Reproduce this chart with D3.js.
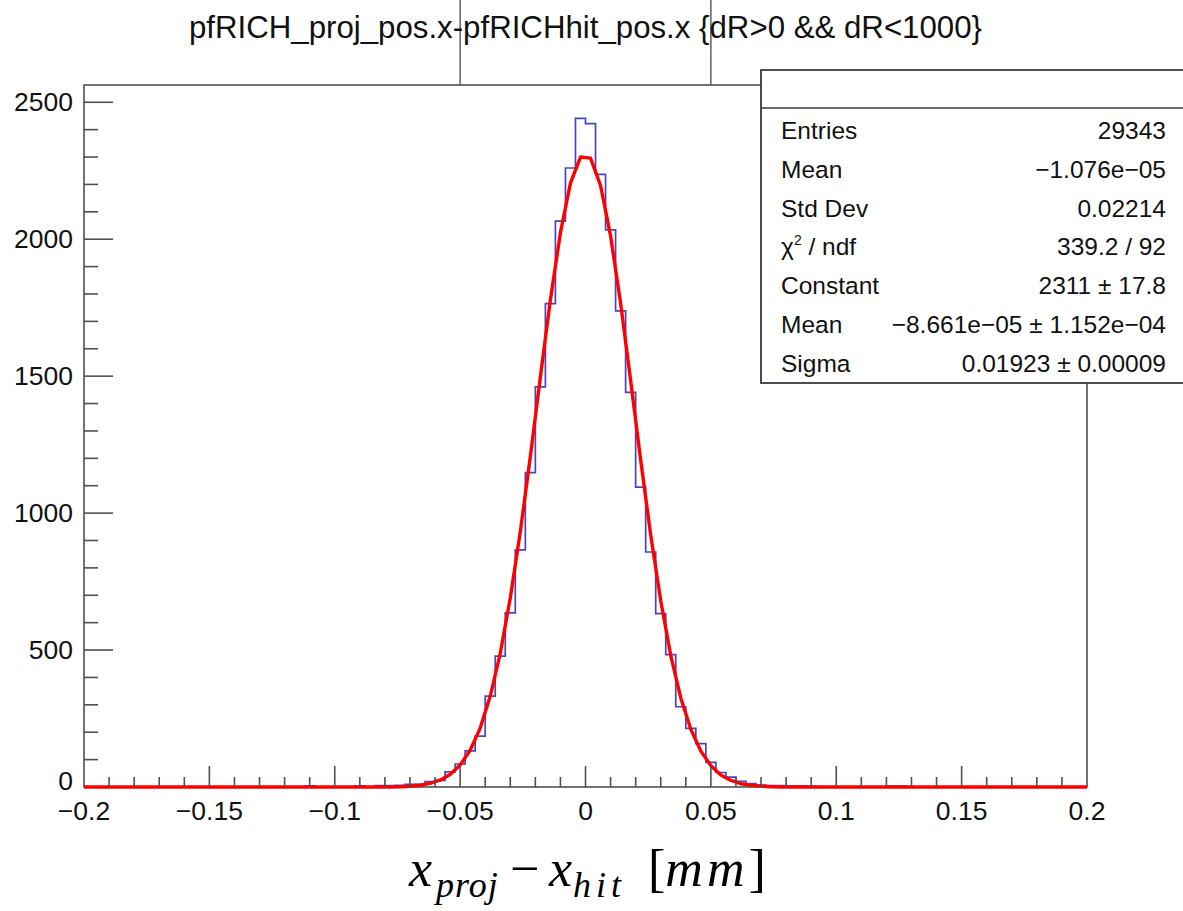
<!DOCTYPE html>
<html>
<head>
<meta charset="utf-8">
<script src="https://cdn.jsdelivr.net/npm/d3@7"></script>
<style>
  body { margin: 0; background: #fff; }
  svg { display: block; font-family: "Liberation Sans", Arial, sans-serif; }
</style>
</head>
<body>
<svg id="chart" width="1183" height="911"></svg>
<script>
const binLow = -0.2;
const binHigh = 0.2;
const binWidth = 0.004;

// counts per bin, 100 bins from -0.2 to 0.2
const counts = [
  0, 0, 0, 0, 0, 0, 0, 0, 0, 0,
  0, 0, 0, 0, 0, 0, 0, 1, 0, 0,
  0, 0, 4, 0, 0, 0, 1, 4, 1, 5,
  5, 6, 10, 11, 20, 24, 55, 84, 132, 186,
  332, 478, 636, 866, 1148, 1461, 1765, 2066, 2260, 2441,
  2422, 2237, 2034, 1738, 1441, 1095, 858, 633, 483, 293,
  214, 158, 90, 53, 36, 21, 12, 7, 5, 5,
  4, 4, 3, 1, 0, 1, 0, 0, 0, 1,
  3, 3, 0, 0, 0, 1, 0, 0, 0, 0,
  0, 0, 0, 1, 0, 0, 0, 0, 0, 0
];

// red fit curve read at the bin centres
const fitValues = [
  0, 0, 0, 0, 0, 0, 0, 0, 0, 0,
  0, 0, 0, 0, 0, 0, 0, 0, 0, 0,
  0, 0, 0, 0, 0, 0, 0, 0, 0, 0,
  0, 1, 3, 6, 13, 25, 46, 80, 134, 215,
  331, 488, 690, 932, 1207, 1497, 1779, 2024, 2205, 2300,
  2296, 2196, 2012, 1766, 1484, 1194, 920, 680, 480, 325,
  211, 131, 78, 44, 24, 12, 6, 3, 1, 0,
  0, 0, 0, 0, 0, 0, 0, 0, 0, 0,
  0, 0, 0, 0, 0, 0, 0, 0, 0, 0,
  0, 0, 0, 0, 0, 0, 0, 0, 0, 0
];

const xTicks = [-0.2, -0.15, -0.1, -0.05, 0, 0.05, 0.1, 0.15, 0.2];
const xTickLabels = ["\u22120.2", "\u22120.15", "\u22120.1", "\u22120.05", "0", "0.05", "0.1", "0.15", "0.2"];
const yTicks = [0, 500, 1000, 1500, 2000, 2500];
const yMax = 2563;

const title = "pfRICH_proj_pos.x-pfRICHhit_pos.x {dR>0 && dR<1000}";
const statLabels = ["Entries", "Mean", "Std Dev", "chi2", "Constant", "Mean", "Sigma"];
const statValues = ["29343", "\u22121.076e\u221205", "0.02214", "339.2 / 92", "2311 \u00b1 17.8",
  "\u22128.661e\u221205 \u00b1 1.152e\u221204", "0.01923 \u00b1 0.00009"];

const frame = { left: 84, right: 1087, top: 85, bottom: 787 };
const axisColor = "#505050";

const x = d3.scaleLinear().domain([binLow, binHigh]).range([frame.left, frame.right]);
const y = d3.scaleLinear().domain([0, yMax]).range([frame.bottom, frame.top]);

const svg = d3.select("#chart");

// frame box
svg.append("rect")
  .attr("x", frame.left).attr("y", frame.top)
  .attr("width", frame.right - frame.left).attr("height", frame.bottom - frame.top)
  .attr("fill", "none").attr("stroke", axisColor).attr("stroke-width", 1.6);

// histogram outline
const histPoints = [];
counts.forEach((c, i) => {
  const lo = binLow + i * binWidth;
  histPoints.push([lo, c], [lo + binWidth, c]);
});
const line = d3.line().x(d => x(d[0])).y(d => y(d[1]));

svg.append("path")
  .attr("d", line(histPoints))
  .attr("fill", "none")
  .attr("stroke", "#2626b8")
  .attr("stroke-opacity", 0.85)
  .attr("stroke-width", 1.7);

// fit curve
const fitPoints = [[binLow, fitValues[0]]]
  .concat(fitValues.map((v, i) => [binLow + (i + 0.5) * binWidth, v]))
  .concat([[binHigh, fitValues[fitValues.length - 1]]]);

svg.append("path")
  .attr("d", line(fitPoints))
  .attr("fill", "none")
  .attr("stroke", "#ff0000")
  .attr("stroke-width", 3.4)
  .attr("stroke-linejoin", "round");

// x axis ticks (inside, upward)
const xMinor = d3.range(-0.19, 0.2, 0.01).map(v => +v.toFixed(3));
svg.append("g").selectAll("line")
  .data(xMinor)
  .join("line")
  .attr("x1", d => x(d)).attr("x2", d => x(d))
  .attr("y1", frame.bottom)
  .attr("y2", d => frame.bottom - (Math.abs(Math.round(d * 100)) % 5 === 0 ? 21 : 10))
  .attr("stroke", axisColor).attr("stroke-width", 1.6);

svg.append("g").selectAll("text")
  .data(xTicks)
  .join("text")
  .attr("x", d => x(d))
  .attr("y", 820)
  .attr("text-anchor", "middle")
  .attr("font-size", 26.5)
  .attr("fill", "#111")
  .text((d, i) => xTickLabels[i]);

// y axis ticks (inside, rightward)
const yMinor = d3.range(100, yMax, 100);
svg.append("g").selectAll("line")
  .data(yMinor)
  .join("line")
  .attr("x1", frame.left)
  .attr("x2", d => frame.left + (d % 500 === 0 ? 29 : 14))
  .attr("y1", d => y(d)).attr("y2", d => y(d))
  .attr("stroke", axisColor).attr("stroke-width", 1.6);

svg.append("g").selectAll("text")
  .data(yTicks)
  .join("text")
  .attr("x", 73)
  .attr("y", d => y(d) + (d === 0 ? 3 : 9))
  .attr("text-anchor", "end")
  .attr("font-size", 26.5)
  .attr("fill", "#111")
  .text(d => d);

// stats box
const box = { left: 761, top: 70, right: 1200, bottom: 383, header: 108 };
svg.append("rect")
  .attr("x", box.left).attr("y", box.top)
  .attr("width", box.right - box.left).attr("height", box.bottom - box.top)
  .attr("fill", "#fff").attr("stroke", "#3a3a3a").attr("stroke-width", 1.8);
svg.append("line")
  .attr("x1", box.left).attr("x2", box.right)
  .attr("y1", box.header).attr("y2", box.header)
  .attr("stroke", "#3a3a3a").attr("stroke-width", 1.6);

const rows = svg.append("g").attr("font-size", 24.5).attr("fill", "#111");
statLabels.forEach((label, i) => {
  const by = 139 + i * 38.8;
  const t = rows.append("text").attr("x", 781).attr("y", by);
  if (label === "chi2") {
    t.append("tspan").text("\u03c7");
    t.append("tspan").attr("font-size", 14).attr("dy", -10).text("2");
    t.append("tspan").attr("dy", 10).text(" / ndf");
  } else {
    t.text(label);
  }
  rows.append("text")
    .attr("x", 1166).attr("y", by)
    .attr("text-anchor", "end")
    .text(statValues[i]);
});

// title with the two thin guide lines
svg.append("g").selectAll("line")
  .data([-0.05, 0.05])
  .join("line")
  .attr("x1", d => x(d)).attr("x2", d => x(d))
  .attr("y1", 0).attr("y2", frame.top)
  .attr("stroke", "#555").attr("stroke-width", 1.4);

svg.append("text")
  .attr("x", 189)
  .attr("y", 38)
  .attr("font-size", 31)
  .attr("fill", "#111")
  .attr("textLength", 793)
  .attr("lengthAdjust", "spacingAndGlyphs")
  .text(title);

// x axis title, pieces placed to match the reference spacing
const xt = svg.append("text")
  .attr("y", 886)
  .attr("font-family", "'Liberation Serif', 'DejaVu Serif', serif")
  .attr("font-size", 52)
  .attr("fill", "#000");
xt.append("tspan").attr("x", 409).attr("font-style", "italic").text("x");
xt.append("tspan").attr("x", 436).attr("dy", 11).attr("font-style", "italic")
  .attr("font-size", 36).attr("letter-spacing", 1).text("proj");
xt.append("tspan").attr("x", 510).attr("dy", -11).text("\u2212");
xt.append("tspan").attr("x", 549).attr("font-style", "italic").text("x");
xt.append("tspan").attr("x", 573).attr("dy", 11).attr("font-style", "italic")
  .attr("font-size", 36).attr("letter-spacing", 5).text("hit");
xt.append("tspan").attr("x", 648).attr("dy", -11).text("[");
xt.append("tspan").attr("font-style", "italic").attr("letter-spacing", 4).text("mm");
xt.append("tspan").text("]");
</script>
</body>
</html>
